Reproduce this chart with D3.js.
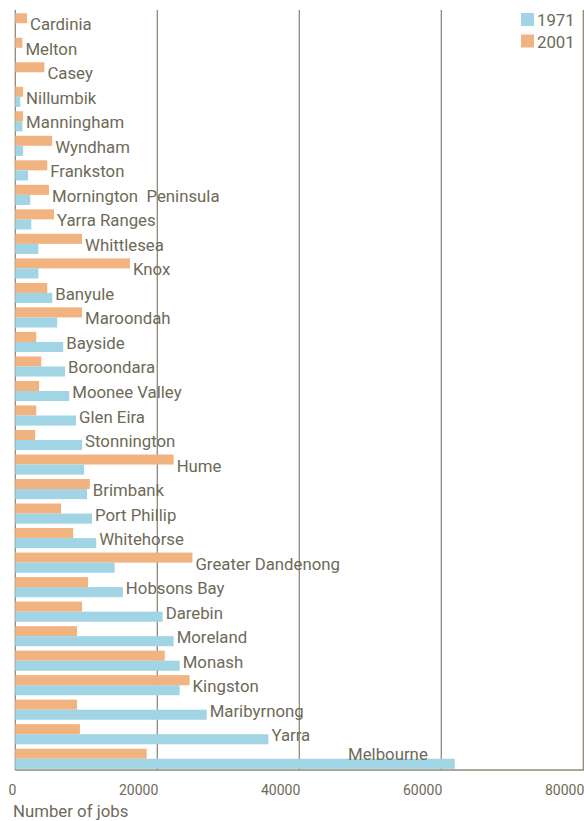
<!DOCTYPE html>
<html>
<head>
<meta charset="utf-8">
<script src="https://cdn.jsdelivr.net/npm/d3@7"></script>
<style>
  body { margin: 0; background: #fff; }
  svg text { font-family: Roboto, sans-serif; fill: #6d6a58; }
</style>
</head>
<body>
<div id="chart"></div>
<script>
// councils, top to bottom
const councils = ["Cardinia", "Melton", "Casey", "Nillumbik", "Manningham", "Wyndham", "Frankston",
  "Mornington  Peninsula", "Yarra Ranges", "Whittlesea", "Knox", "Banyule", "Maroondah", "Bayside",
  "Boroondara", "Moonee Valley", "Glen Eira", "Stonnington", "Hume", "Brimbank", "Port Phillip",
  "Whitehorse", "Greater Dandenong", "Hobsons Bay", "Darebin", "Moreland", "Monash", "Kingston",
  "Maribyrnong", "Yarra", "Melbourne"]

const jobs1971 = [0, 0, 0, 700, 1000, 1100, 1800, 2100, 2250, 3250, 3250, 5200, 5900, 6750,
  7000, 7600, 8550, 9400, 9700, 10100, 10800, 11400, 14000, 15150, 20750, 22300, 23150, 23150,
  26950, 35650, 61900]

const jobs2001 = [1650, 1000, 4100, 1100, 1100, 5200, 4500, 4750, 5450, 9400, 16150, 4500, 9400,
  2950, 3650, 3350, 2950, 2800, 22300, 10500, 6450, 8150, 24950, 10250, 9400, 8700, 21050, 24550,
  8700, 9100, 18500]

const xTicks = [0, 20000, 40000, 60000, 80000]
const series = ["1971", "2001"]
const colors = { "1971": "#a1d4e4", "2001": "#f1b480" }

const width = 584, height = 821

const svg = d3.select("#chart").append("svg")
  .attr("width", width)
  .attr("height", height)

const x = d3.scaleLinear().domain([0, 80000]).range([15.3, 583.3])

const y = d3.scaleBand()
  .domain(councils)
  .range([11, 771])
  .paddingInner(0.18)
  .paddingOuter(0.09)

const ySub = d3.scaleBand()
  .domain(["2001", "1971"])
  .range([0, y.bandwidth()])

// gridlines
svg.append("g").selectAll("line")
  .data(xTicks)
  .join("line")
  .attr("x1", d => x(d)).attr("x2", d => x(d))
  .attr("y1", 10).attr("y2", 770)
  .attr("stroke", "#8e8a7a")
  .attr("stroke-width", 1.3)

const rows = councils.map((c, i) => ({ name: c, v1971: jobs1971[i], v2001: jobs2001[i] }))

const g = svg.append("g").selectAll("g")
  .data(rows)
  .join("g")
  .attr("transform", d => `translate(0,${y(d.name)})`)

g.append("rect")
  .attr("x", x(0))
  .attr("y", ySub("2001"))
  .attr("height", ySub.bandwidth())
  .attr("width", d => x(d.v2001) - x(0))
  .attr("fill", colors["2001"])

g.append("rect")
  .attr("x", x(0))
  .attr("y", ySub("1971"))
  .attr("height", ySub.bandwidth())
  .attr("width", d => x(d.v1971) - x(0))
  .attr("fill", colors["1971"])

// labels next to the longer bar (the biggest one sits inside, above its bar)
const maxV = d3.max(jobs1971)
g.append("text")
  .attr("x", d => d.v1971 === maxV ? x(d.v1971) - 27 : x(Math.max(d.v1971, d.v2001)) + 3)
  .attr("y", d => d.v1971 === maxV ? ySub("2001") + ySub.bandwidth() / 2 : y.bandwidth() / 2 + 1)
  .attr("text-anchor", d => d.v1971 === maxV ? "end" : "start")
  .attr("dominant-baseline", "central")
  .attr("font-size", 16.8)
  .text(d => d.name)
  .style("white-space", "pre")

// axes lines
svg.append("line")
  .attr("x1", x(0)).attr("x2", width)
  .attr("y1", 770).attr("y2", 770)
  .attr("stroke", "#8e8a7a").attr("stroke-width", 1.3)

svg.append("g").selectAll("text")
  .data(xTicks)
  .join("text")
  .attr("x", d => x(d) + 1)
  .attr("y", 795)
  .attr("text-anchor", "end")
  .attr("font-size", 14)
  .text(d => d)

svg.append("text")
  .attr("x", 13)
  .attr("y", 817)
  .attr("font-size", 16.8)
  .text("Number of jobs")

// legend
const legend = svg.append("g").selectAll("g")
  .data(series)
  .join("g")
  .attr("transform", (d, i) => `translate(521,${13 + i * 21.5})`)

legend.append("rect")
  .attr("width", 13).attr("height", 13)
  .attr("fill", d => colors[d])

legend.append("text")
  .attr("x", 16)
  .attr("y", 7)
  .attr("dominant-baseline", "central")
  .attr("font-size", 16.8)
  .text(d => d)
</script>
</body>
</html>
